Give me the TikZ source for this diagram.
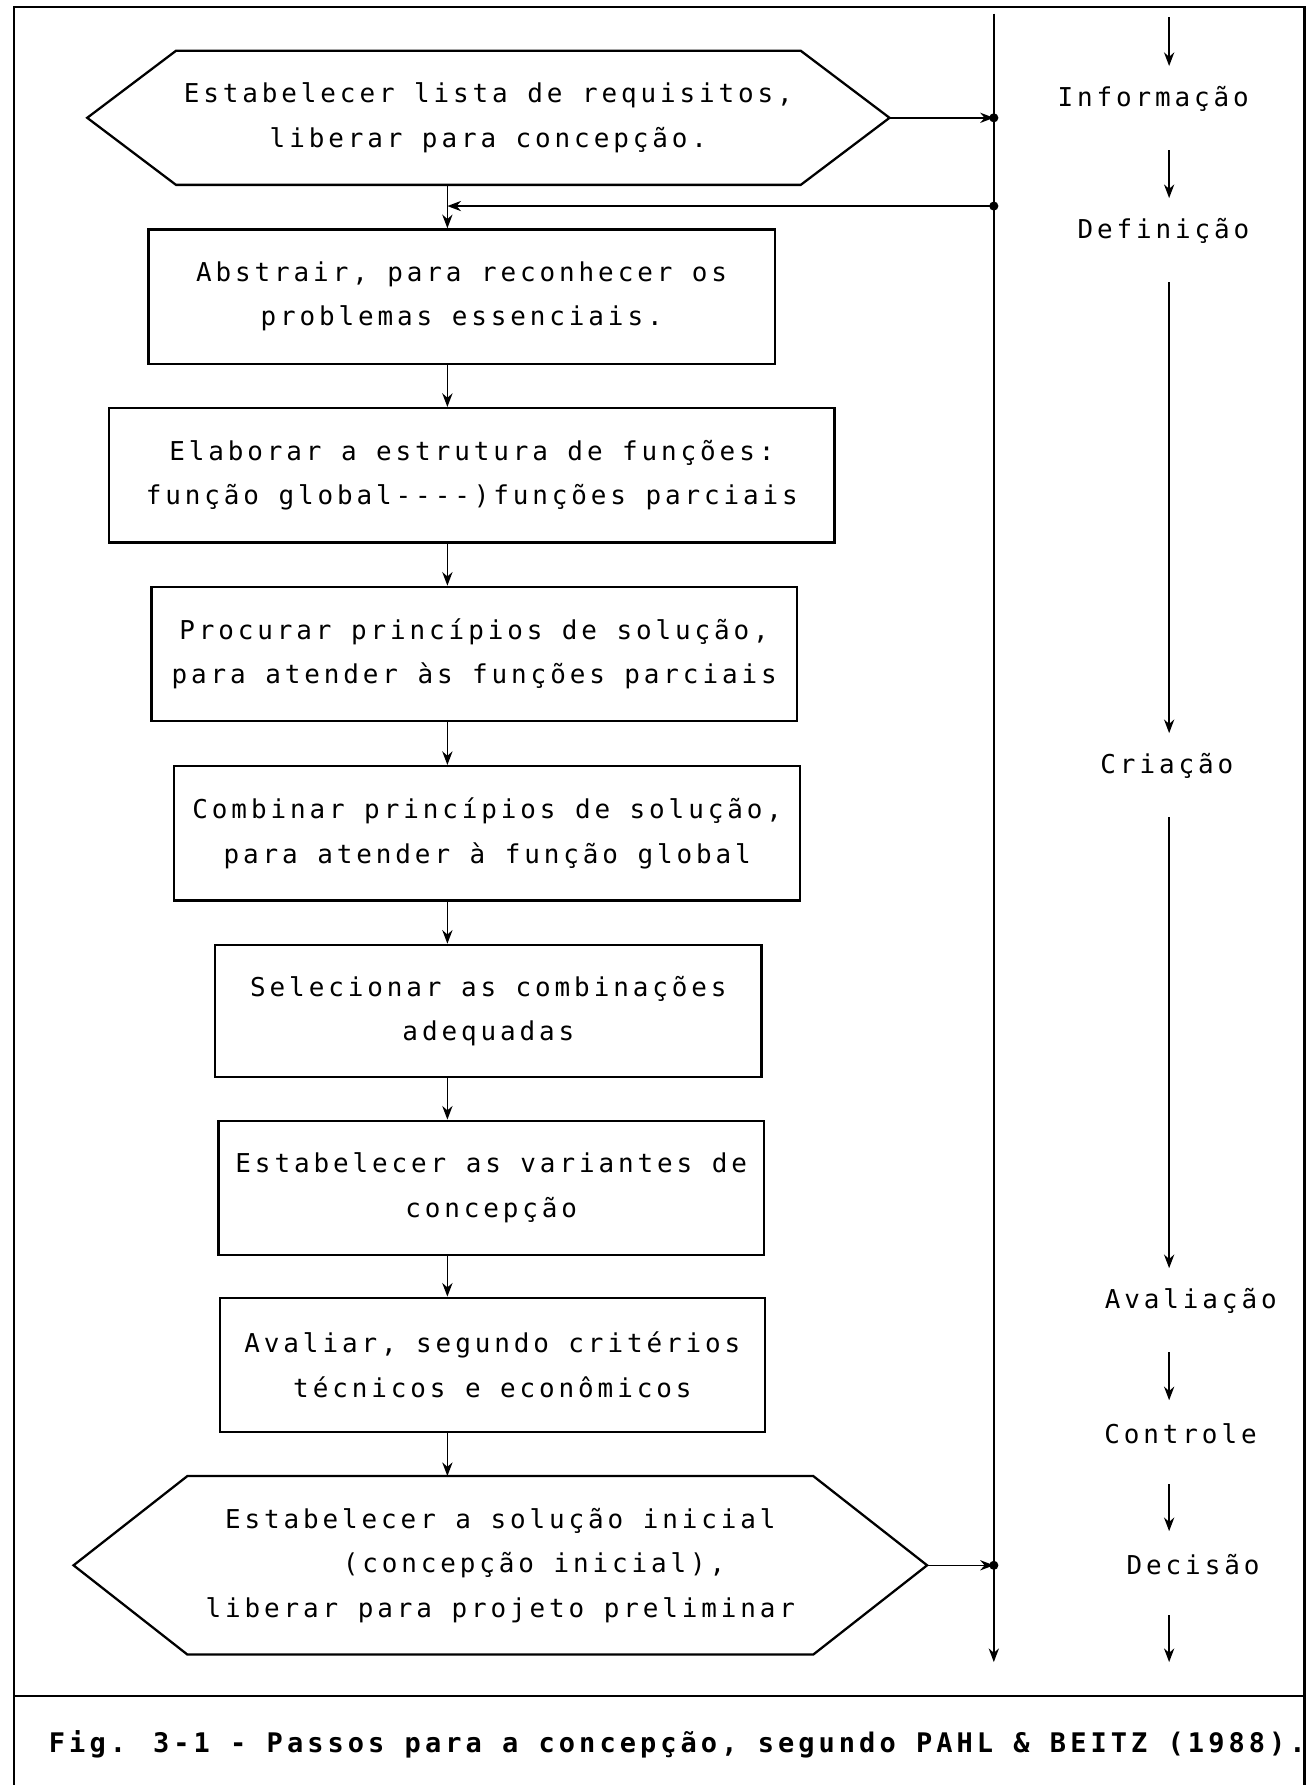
\documentclass[tikz,border=0pt]{standalone}
\usepackage{fontspec}
\usetikzlibrary{arrows.meta}
\newfontfamily\dotfont[LetterSpace=15]{DejaVu Sans Mono}

\begin{document}
\begin{tikzpicture}[x=0.5pt,y=-0.5pt,
  every node/.append style={font=\dotfont\fontsize{11.4}{19.5}\selectfont,align=center,inner sep=0pt},
  stepbox/.style={draw,line width=1pt,minimum height=59pt},
  hexa/.style={minimum width=274pt},
  arr/.style={-{Stealth[length=6pt,width=4.5pt]},line width=0.7pt},
  from lbl/.style={shorten <=22.5pt},
  to lbl/.style={shorten >=14.5pt}]

  \useasboundingbox (0,0) rectangle (1152,1568);

  % frame and caption
  \draw[line width=1pt] (12,1568) -- (12,6) -- (1146,6) -- (1146,1568);
  \draw[line width=1pt] (12,1490) -- (1146,1490);
  \node[font=\dotfont\bfseries\fontsize{11.85}{19.5}\selectfont] (fig) at (595,1532)
    {Fig. 3-1 - Passos para a concepção, segundo PAHL \& BEITZ (1988).};

  % steps
  \node[hexa,minimum height=58.5pt] (req) at (429,103.5)
    {Estabelecer lista de requisitos,\\liberar para concepção.};
  \node[stepbox,minimum width=275pt] (abs) at (405.5,260.5)
    {Abstrair, para reconhecer os\\problemas essenciais.};
  \node[stepbox,minimum width=318.5pt] (fun) at (414.5,417.5)
    {Elaborar a estrutura de funções:\\função global----)funções parciais};
  \node[stepbox,minimum width=283.5pt] (pri) at (416.5,574.5)
    {Procurar princípios de solução,\\para atender às funções parciais};
  \node[stepbox,minimum width=275pt] (com) at (428,732)
    {Combinar princípios de solução,\\para atender à função global};
  \node[stepbox,minimum width=240pt,minimum height=58pt] (sel) at (429,888)
    {Selecionar as combinações\\adequadas};
  \node[stepbox,minimum width=239.5pt] (var) at (431.5,1043.5)
    {Estabelecer as variantes de\\concepção};
  \node[stepbox,minimum width=239.5pt] (ava) at (432.5,1199)
    {Avaliar, segundo critérios\\técnicos e econômicos};
  \node[hexa,minimum width=274.5pt,minimum height=78pt] (sol) at (439.5,1375)
    {Estabelecer a solução inicial\\\hspace*{2.6em}(concepção inicial),\\liberar para projeto preliminar};

  \coordinate (req-w) at ([xshift=-39pt]req.west);
  \coordinate (req-e) at ([xshift=39pt]req.east);
  \coordinate (sol-w) at ([xshift=-50pt]sol.west);
  \coordinate (sol-e) at ([xshift=50pt]sol.east);
  \draw[line width=1pt] (req.north west) -- (req.north east) -- (req-e)
    -- (req.south east) -- (req.south west) -- (req-w) -- cycle;
  \draw[line width=1pt] (sol.north west) -- (sol.north east) -- (sol-e)
    -- (sol.south east) -- (sol.south west) -- (sol-w) -- cycle;

  % flow
  \coordinate (spine) at (393,0);
  \coordinate (bus) at (873,12);
  \coordinate (bus end) at (873,1460);
  \coordinate (j1) at (req-e -| bus);
  \coordinate (j2) at (873,181);
  \coordinate (j3) at (sol-e -| bus);

  \draw[arr] (bus) -- (bus end);
  \draw[arr] (req-e) -- (j1);
  \draw[arr] (j2) -- (j2 -| spine);
  \draw[arr] (sol-e) -- (j3);
  \foreach \j in {j1,j2,j3}
    \fill (\j) circle (2pt);

  \draw[arr] (req.south -| spine) -- (abs.north -| spine);
  \draw[arr] (abs.south -| spine) -- (fun.north -| spine);
  \draw[arr] (fun.south -| spine) -- (pri.north -| spine);
  \draw[arr] (pri.south -| spine) -- (com.north -| spine);
  \draw[arr] (com.south -| spine) -- (sel.north -| spine);
  \draw[arr] (sel.south -| spine) -- (var.north -| spine);
  \draw[arr] (var.south -| spine) -- (ava.north -| spine);
  \draw[arr] (ava.south -| spine) -- (sol.north -| spine);

  % phases
  \node (inf) at (1013,87) {Informação};
  \node (def) at (1022,203) {Definição};
  \node (cri) at (1025,673) {Criação};
  \node (avl) at (1046,1143) {Avaliação};
  \node (con) at (1037,1259) {Controle};
  \node (dec) at (1048,1374) {Decisão};

  \coordinate (rail) at (1027,15);
  \coordinate (rail end) at (1027,1460);
  \draw[arr,to lbl] (rail) -- (rail |- inf);
  \draw[arr,from lbl,to lbl] (rail |- inf) -- (rail |- def);
  \draw[arr,from lbl,to lbl] (rail |- def) -- (rail |- cri);
  \draw[arr,from lbl,to lbl] (rail |- cri) -- (rail |- avl);
  \draw[arr,from lbl,to lbl] (rail |- avl) -- (rail |- con);
  \draw[arr,from lbl,to lbl] (rail |- con) -- (rail |- dec);
  \draw[arr,from lbl] (rail |- dec) -- (rail end);
\end{tikzpicture}
\end{document}
